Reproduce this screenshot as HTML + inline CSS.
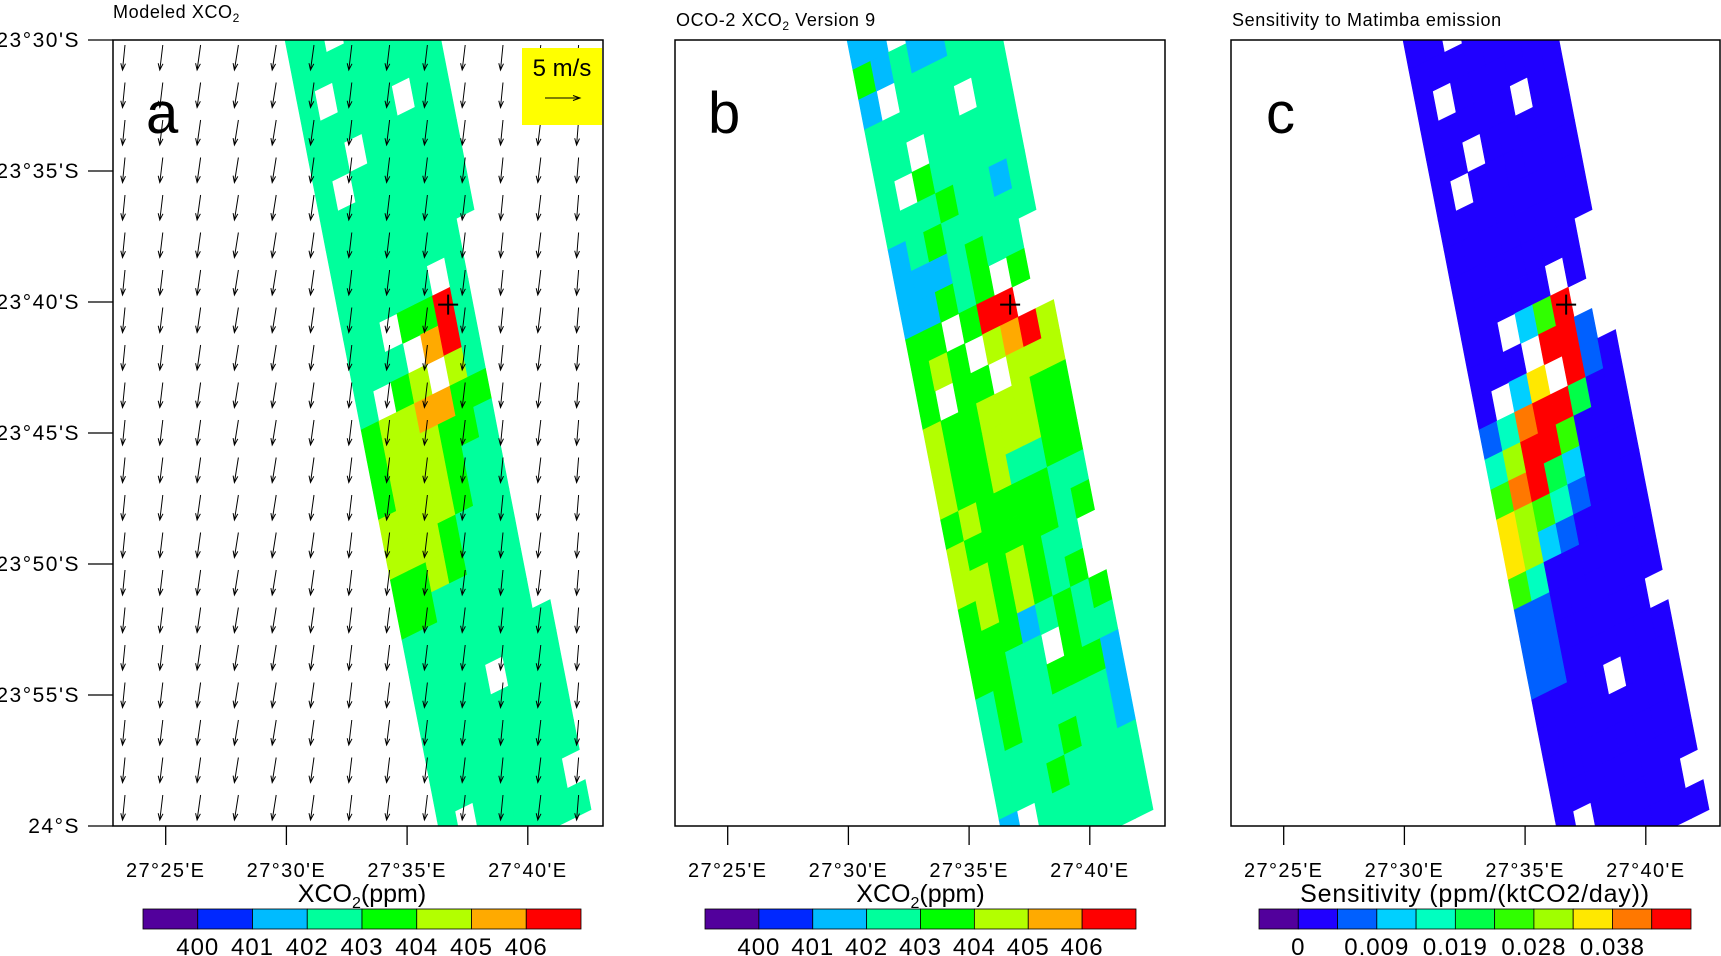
<!DOCTYPE html>
<html><head><meta charset="utf-8"><title>XCO2 panels</title>
<style>
html,body{margin:0;padding:0;background:#fff;}
svg{display:block;font-family:"Liberation Sans",Arial,sans-serif;}
</style></head>
<body>
<svg id="fig" xmlns="http://www.w3.org/2000/svg" width="1721" height="956" viewBox="0 0 1721 956">
<rect x="0" y="0" width="1721" height="956" fill="#fff"/>
</svg>
<script>
// ---------- data ----------
const colorsAB = ['#52009c','#0028ff','#00bbff','#00ff9c','#00ff00','#b3ff00','#ffaa00','#ff0000'];
const colorsC = ['#52009c','#2000ff','#0060ff','#00d0ff','#00ffc0','#00ff48','#30ff00','#a0ff00','#ffe800','#ff7800','#ff0000'];
const labelsAB = ['400','401','402','403','404','405','406'];
const labelsC = ['0','','0.009','','0.019','','0.028','','0.038',''];
const lonTicks = [25,30,35,40];
const lonLabels = ["27°25'E","27°30'E","27°35'E","27°40'E"];
const latTicks = [30,35,40,45,50,55,60];
const latLabels = ["23°30'S","23°35'S","23°40'S","23°45'S","23°50'S","23°55'S","24°S"];
const gridA = [
"33333333","33.33333","33333333","3.333333","33333.33","33.33333","3.333333","33333333",
"33333333","3333333.","33333.3.","33.4473.","333.673.","3.45.53.","4556644.","4555443.",
"4555433.","5555433.","5554333.","4454333.","4433333.","3333333.","33333333","3333.333",
"33333333","33333333","33333333","3.33333.","33333333"];
const gridB = [
"33333333","22.23333","42322333","2.333333","33333.33","33.33333","3.433333","33343323",
"23433333","2223433.","22434.4.","44.477..","454.5675","4.44.555","54455544","54455544",
"54453344","45444433","54444434","5545433.","4545434.","44423434","4433.433","34334442",
"34333332","33334332","33343333","2.333333","23333333"];
const gridC = [
"11111111","11.11111","11111111","1.111111","11111.11","11.11111","1.111111","11111111",
"11111111","1111111.","11111.1.","11.36a..","111.aa2.","1.38.a21","249aa511","47aa6111",
"69a53111","87642111","87321111","64111111","22111111","2211111.","22111111","1111.111",
"11111111","11111111","11111111","1.11111.","11111111"];
const windU = [-2.5,-3,-3.5,-4,-4,-3.5,-3,-3,-3,-3,-2.5,-3,-2];
const windV = [25,25,25,25,25,25,25,25,25,25,25,25,25,25,25,25,25,25,25,25,25];
const plantLon = 36.7, plantLat = 40.1;

// ---------- geometry ----------
const NS='http://www.w3.org/2000/svg';
const svg=document.getElementById('fig');
const FX0=113,FX1=603,FY0=40,FY1=826;
const offs=[0,562,1118];
function xLon(m,o){return 165.7+(m-25)*24.14+o;}
function yLat(m){return 40+(m-30)*26.2;}
function mk(tag,attrs,parent){const e=document.createElementNS(NS,tag);for(const k in attrs)e.setAttribute(k,attrs[k]);(parent||svg).appendChild(e);return e;}
function P(r,j,o){const Y=40+30*r-8.8*j;return [285+0.195*(Y-40)+19.5*j+o,Y];}

const defs=mk('defs',{});
offs.forEach((o,i)=>{
  const cp=mk('clipPath',{id:'clip'+i},defs);
  mk('rect',{x:FX0+o,y:FY0,width:Math.min(FX1+o,1720)-FX0-o,height:FY1-FY0},cp);
});

function drawSwath(grid,colors,o,i){
  const g=mk('g',{'clip-path':'url(#clip'+i+')'});
  
  
  grid.forEach((row,ri)=>{
    const r=ri-1;
    for(let j=0;j<row.length;j++){
      const ch=row[j]; if(ch==='.')continue;
      const c=colors[parseInt(ch,16)];
      const p=[P(r,j,o),P(r,j+1,o),P(r+1,j+1,o),P(r+1,j,o)];
      const pg=mk('polygon',{points:p.map(q=>q[0].toFixed(1)+','+q[1].toFixed(1)).join(' '),fill:c,stroke:c,'stroke-width':0.6},g);
      
      
    }
  });
}

function drawAxes(o,i){
  const fr=mk('rect',{x:FX0+o,y:FY0,width:Math.min(FX1+o,1720)-FX0-o,height:FY1-FY0,fill:'none',stroke:'#000','stroke-width':1.5});
  
  
  lonTicks.forEach((m,k)=>{
    const x=xLon(m,o);
    const t=mk('line',{x1:x,y1:FY1,x2:x,y2:845,stroke:'#000','stroke-width':1.3});
    
    
    const tx=mk('text',{x:x,y:877,'font-size':20,'letter-spacing':1.4,'text-anchor':'middle',fill:'#000'});
    tx.textContent=lonLabels[k];
    
    
  });
  if(i===0){
    latTicks.forEach((m,k)=>{
      const y=yLat(m);
      const t=mk('line',{x1:88,y1:y,x2:FX0,y2:y,stroke:'#000','stroke-width':1.3});
      
      
      const tx=mk('text',{x:80,y:y+7,'font-size':21,'letter-spacing':1.5,'text-anchor':'end',fill:'#000'});
      tx.textContent=latLabels[k];
      
      
    });
  }
  const px=xLon(plantLon,o), py=yLat(plantLat);
  const gm=mk('g',{stroke:'#000','stroke-width':2});
  
  
  mk('line',{x1:px-10,y1:py,x2:px+10,y2:py},gm);
  mk('line',{x1:px,y1:py-10,x2:px,y2:py+10},gm);
}

function drawWind(){
  const g=mk('g',{stroke:'#000','stroke-width':1,fill:'none','clip-path':'url(#clip0)'});
  
  
  windV.forEach((v,ri)=>{
    windU.forEach((u,ci)=>{
      const x0=125+37.8*ci, y0=45+37.5*ri;
      const x1=x0+u, y1=y0+v;
      const a=Math.atan2(y1-y0,x1-x0), h=7;
      const d='M'+x0.toFixed(1)+','+y0.toFixed(1)+'L'+x1.toFixed(1)+','+y1.toFixed(1)+
        'M'+(x1-h*Math.cos(a-0.35)).toFixed(1)+','+(y1-h*Math.sin(a-0.35)).toFixed(1)+'L'+x1.toFixed(1)+','+y1.toFixed(1)+
        'L'+(x1-h*Math.cos(a+0.35)).toFixed(1)+','+(y1-h*Math.sin(a+0.35)).toFixed(1);
      const p=mk('path',{d:d},g);
      
      
    });
  });
}

function drawColorbar(x0,x1,colors,labels,title,tid,i){
  const g=mk('g',{});
  
  
  const n=colors.length, w=(x1-x0)/n;
  colors.forEach((c,k)=>{
    const r=mk('rect',{x:x0+k*w,y:909,width:w,height:20,fill:c,stroke:'#000','stroke-width':0.8},g);
    
    
  });
  labels.forEach((l,k)=>{
    if(!l)return;
    const t=mk('text',{x:x0+(k+1)*w,y:955,'font-size':24,'letter-spacing':1,'text-anchor':'middle',fill:'#000'},g);
    t.textContent=l;
    
    
  });
  const tt=mk('text',{x:(x0+x1)/2,y:902,'font-size':25,'text-anchor':'middle',fill:'#000'},g);
  
  
  if(tid){tt.innerHTML='XCO<tspan font-size="16" dy="6">2</tspan><tspan dy="-6">(ppm)</tspan>';}
  else {tt.setAttribute('letter-spacing','0.8');tt.textContent=title;}
}

const grids=[gridA,gridB,gridC];
const cols=[colorsAB,colorsAB,colorsC];
offs.forEach((o,i)=>{drawSwath(grids[i],cols[i],o,i);});
drawWind();
offs.forEach((o,i)=>drawAxes(o,i));

const kb=mk('g',{});


mk('rect',{x:522,y:48,width:80,height:77,fill:'#ffff00'},kb);
const kt=mk('text',{x:562,y:76,'font-size':24,'text-anchor':'middle',fill:'#000'},kb);
kt.textContent='5 m/s';
mk('path',{d:'M545,98L580,98M573,95.5L580,98L573,100.5',stroke:'#000','stroke-width':1,fill:'none'},kb);

[['a',146],['b',708],['c',1266]].forEach(([l,x],k)=>{
  const t=mk('text',{x:x,y:133,'font-size':58,fill:'#000'});
  t.textContent=l;
  
  
});
const t1=mk('text',{x:113,y:18,'font-size':18,'letter-spacing':0.6,fill:'#000'});
t1.innerHTML='Modeled XCO<tspan font-size="12" dy="4">2</tspan>';


const t2=mk('text',{x:676,y:26,'font-size':18,'letter-spacing':0.6,fill:'#000'});
t2.innerHTML='OCO-2 XCO<tspan font-size="12" dy="4">2</tspan><tspan dy="-4"> Version 9</tspan>';


const t3=mk('text',{x:1232,y:26,'font-size':18,'letter-spacing':0.6,fill:'#000'});
t3.textContent='Sensitivity to Matimba emission';



drawColorbar(143,581,colorsAB,labelsAB,'',true,0);
drawColorbar(705,1136,colorsAB,labelsAB,'',true,1);
drawColorbar(1259,1691,colorsC,labelsC,'Sensitivity (ppm/(ktCO2/day))',false,2);
</script>
</body></html>
